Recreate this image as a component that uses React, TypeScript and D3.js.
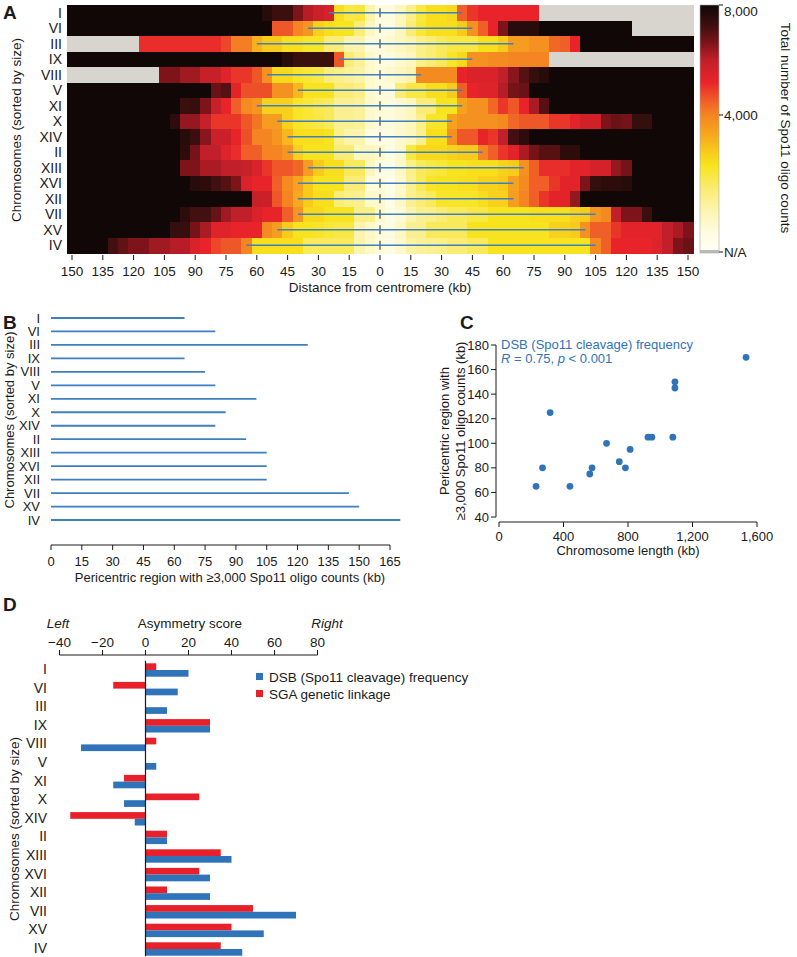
import React from 'react';
import * as d3 from 'd3';

const FONT = '"Liberation Sans", Arial, Helvetica, sans-serif';
const N = null;

const chromosomes = ['I', 'VI', 'III', 'IX', 'VIII', 'V', 'XI', 'X', 'XIV', 'II', 'XIII', 'XVI', 'XII', 'VII', 'XV', 'IV'];

// bin centres (kb from centromere), 5 kb bins
const binCentersKb = [
  -150, -145, -140, -135, -130, -125, -120, -115, -110, -105,
  -100, -95, -90, -85, -80, -75, -70, -65, -60, -55,
  -50, -45, -40, -35, -30, -25, -20, -15, -10, -5,
  0, 5, 10, 15, 20, 25, 30, 35, 40, 45,
  50, 55, 60, 65, 70, 75, 80, 85, 90, 95,
  100, 105, 110, 115, 120, 125, 130, 135, 140, 145,
  150,
];

// Spo11 oligo counts per bin, in thousands (8 = saturated, null = N/A)
const heat_I = [8,8,8,8,8,8,8,8,8,8, 8,8,8,8,8,8,8,8,8,7.6, 7.3,7.3,6.6,6.1,5.8,5.6,2.6,2.2,2.3,1.2, 0.5,0.6,1.0,1.6,2.2,2.6,2.6,2.7,4.5,5.0, 5.2,5.2,5.2,5.2,5.2,5.2,N,N,N,N, N,N,N,N,N,N,N,N,N,N, N];
const heat_VI = [8,8,8,8,8,8,8,8,8,8, 8,8,8,8,8,8,8,8,8,8, 4.6,4.6,4.0,3.7,2.8,2.6,2.5,2.5,1.8,1.0, 0.5,0.5,1.0,1.8,2.3,2.6,2.6,2.6,2.9,3.8, 4.5,5.2,6.6,7.6,7.6,7.6,8,8,8,8, 8,8,8,8,8,N,N,N,N,N, N];
const heat_III = [N,N,N,N,N,N,N,5.1,5.1,5.1, 5.1,5.1,5.1,5.1,5.1,4.8,4.1,4.1,3.3,2.9, 2.9,2.6,2.6,2.4,2.4,1.8,1.8,1.2,1.2,0.6, 0.6,0.8,1.0,1.2,1.6,1.8,2.0,2.2,2.2,2.2, 2.6,2.6,2.9,3.6,3.6,3.8,3.8,4.4,4.5,5.2, 8,8,8,8,8,8,8,8,8,8, 8];
const heat_IX = [8,8,8,8,8,8,8,8,8,8, 8,8,8,8,8,8,8,8,8,8, 8,7.6,7.3,7.3,7.3,7.3,4.6,1.8,1.4,0.8, 0.5,0.5,0.8,1.0,1.6,1.8,2.0,2.4,2.7,3.8, 3.8,3.9,3.9,4.0,4.0,4.0,4.0,N,N,N, N,N,N,N,N,N,N,N,N,N, N];
const heat_VIII = [N,N,N,N,N,N,N,N,N,6.6, 6.6,6.3,6.3,5.9,5.9,5.3,5.0,5.0,4.6,3.8, 2.7,2.7,2.4,2.3,2.2,1.7,1.6,1.4,1.3,0.8, 0.6,0.8,1.0,1.2,3.9,3.9,3.9,3.9,5.2,5.5, 5.5,5.5,6.0,6.5,7.0,7.4,7.6,8,8,8, 8,8,8,8,8,8,8,8,8,8, 8];
const heat_V = [8,8,8,8,8,8,8,8,8,8, 8,8,8,8,6.8,7.0,5.3,4.7,4.7,4.7, 3.8,3.8,3.2,2.5,2.5,2.5,1.8,1.8,1.6,0.8, 0.6,0.6,1.8,2.2,2.2,2.6,2.6,2.9,4.5,5.2, 5.4,5.4,6.1,6.7,6.8,8,8,8,8,8, 8,8,8,8,8,8,8,8,8,8, 8];
const heat_XI = [8,8,8,8,8,8,8,8,8,8, 8,7.3,7.4,6.6,5.9,5.2,4.5,3.9,3.7,2.8, 2.8,2.8,2.4,2.3,2.1,2.0,1.5,1.5,1.4,0.8, 0.7,0.6,0.8,1.0,1.8,1.8,2.5,2.5,3.5,3.8, 3.8,4.4,5.0,4.6,5.2,6.2,7.0,8,8,8, 8,8,8,8,8,8,8,8,8,8, 8];
const heat_X = [8,8,8,8,8,8,8,8,8,8, 7.5,6.4,6.4,5.9,5.0,5.0,5.0,4.6,4.2,3.6, 3.6,2.8,2.4,2.3,2.2,2.0,1.5,1.5,1.4,0.8, 0.6,0.6,0.8,1.0,1.6,2.4,2.4,3.5,3.8,3.8, 3.8,3.8,3.9,4.4,4.6,4.6,4.6,5.0,5.0,5.3, 5.7,5.7,6.6,6.8,6.7,7.4,7.4,8,8,8, 8];
const heat_XIV = [8,8,8,8,8,8,8,8,8,8, 8,7.6,7.3,6.5,5.8,5.8,5.2,4.7,4.0,4.0, 3.7,3.2,2.6,2.6,2.6,2.5,1.6,1.2,1.2,0.5, 0.4,0.5,0.8,1.0,1.5,2.6,2.6,3.8,4.6,4.6, 5.2,5.0,6.0,7.2,7.5,8,8,8,8,8, 8,8,8,8,8,8,8,8,8,8, 8];
const heat_II = [8,8,8,8,8,8,8,8,8,8, 8,7.5,6.7,6.0,6.0,5.4,5.1,4.5,4.5,4.0, 4.0,3.7,2.8,2.5,2.5,2.5,1.8,1.8,1.0,1.0, 0.8,0.4,0.8,2.2,2.7,2.7,2.7,2.8,2.9,2.9, 4.0,4.5,5.0,5.3,6.2,6.7,7.0,7.0,7.5,7.5, 8,8,8,8,8,8,8,8,8,8, 8];
const heat_XIII = [8,8,8,8,8,8,8,8,8,8, 8,6.6,6.6,6.2,6.2,6.0,6.0,5.9,5.5,5.0, 4.6,4.6,4.4,3.6,2.9,2.6,2.6,2.0,2.0,1.0, 0.4,0.4,0.9,1.6,2.0,2.2,2.3,2.5,2.5,2.6, 2.6,2.6,2.8,2.9,3.8,4.5,5.1,5.1,5.1,5.3, 5.3,5.6,5.6,6.4,6.7,8,8,8,8,8, 8];
const heat_XVI = [8,8,8,8,8,8,8,8,8,8, 8,8,7.6,7.5,7.2,7.0,6.6,5.5,5.2,5.2, 4.5,3.9,3.5,2.9,2.5,2.5,2.5,1.8,1.8,0.6, 0.6,0.3,0.8,1.5,2.0,2.4,2.5,2.5,2.6,2.6, 2.8,2.8,2.9,3.5,3.9,4.5,4.5,5.0,5.3,5.3, 6.6,7.4,7.5,7.5,7.6,8,8,8,8,8, 8];
const heat_XII = [8,8,8,8,8,8,8,8,8,8, 8,8,8,8,8,8,8,8,5.9,5.8, 4.6,4.0,3.4,2.9,2.6,2.6,1.8,1.6,1.5,0.8, 0.8,0.4,0.9,1.5,1.8,2.0,2.4,2.4,2.4,2.4, 2.6,2.8,2.8,3.6,4.0,4.5,5.0,5.3,5.3,6.4, 8,8,8,8,8,8,8,8,8,8, 8];
const heat_VII = [8,8,8,8,8,8,8,8,8,8, 8,7.5,7.2,7.2,6.8,6.3,6.0,6.0,5.5,5.2, 5.2,4.5,3.7,2.7,2.7,2.5,2.5,2.5,1.6,1.6, 0.8,0.4,0.7,1.2,1.5,1.6,1.8,2.0,2.0,2.2, 2.2,2.5,2.5,2.5,2.5,2.6,2.6,2.6,2.6,2.8, 2.9,3.7,3.9,6.0,6.6,6.6,7.3,8,8,8, 8];
const heat_XV = [8,8,8,8,8,8,8,8,8,8, 7.4,7.4,6.7,6.2,5.4,5.4,5.2,5.2,5.2,3.9, 3.6,2.9,2.5,2.5,2.4,2.3,2.2,2.2,1.2,0.9, 0.6,0.5,0.9,1.5,1.5,2.0,2.0,2.0,2.0,2.5, 2.5,2.5,2.5,2.5,2.5,2.5,2.5,2.8,2.8,2.9, 3.8,4.5,4.5,5.0,5.3,5.3,5.3,5.3,6.0,6.2, 6.6];
const heat_IV = [8,8,8,8,7.2,6.9,6.6,6.6,6.3,6.3, 6.1,6.1,5.5,5.2,4.8,4.6,4.6,4.0,2.6,2.6, 2.6,2.6,2.6,2.0,2.0,2.0,2.0,2.0,1.2,0.9, 0.6,0.5,0.8,1.3,1.4,1.5,1.6,1.8,1.8,2.0, 2.0,2.5,2.5,2.5,2.5,2.5,2.5,2.5,2.5,2.5, 2.5,3.9,4.5,5.2,5.2,5.2,5.2,5.4,6.0,6.6, 6.8];

const heatRows = [heat_I, heat_VI, heat_III, heat_IX, heat_VIII, heat_V, heat_XI, heat_X, heat_XIV, heat_II, heat_XIII, heat_XVI, heat_XII, heat_VII, heat_XV, heat_IV];

// pericentric region (<3,000 oligo counts) edges, kb from centromere
const pericentricLeftKb = [-25, -35, -60, -20, -55, -40, -60, -50, -45, -45, -35, -40, -40, -40, -50, -65];
const pericentricRightKb = [40, 45, 65, 45, 20, 40, 40, 35, 35, 50, 70, 65, 65, 105, 100, 105];
// total pericentric region width (kb)
const pericentricKb = [65, 80, 125, 65, 75, 80, 100, 85, 80, 95, 105, 105, 105, 145, 150, 170];
const chromosomeLengthKb = [230, 270, 317, 440, 563, 577, 667, 746, 784, 813, 924, 948, 1078, 1091, 1091, 1532];

// asymmetry scores (panel D)
const dsbAsymmetry = [20, 15, 10, 30, -30, 5, -15, -10, -5, 10, 40, 30, 30, 70, 55, 45];
const sgaAsymmetry = [5, -15, 0, 30, 5, 0, -10, 25, -35, 10, 35, 25, 10, 50, 40, 35];

// tick values
const ticksA = [-150, -135, -120, -105, -90, -75, -60, -45, -30, -15, 0, 15, 30, 45, 60, 75, 90, 105, 120, 135, 150];
const ticksB = [0, 15, 30, 45, 60, 75, 90, 105, 120, 135, 150, 165];
const ticksCx = [0, 400, 800, 1200, 1600];
const ticksCy = [40, 60, 80, 100, 120, 140, 160, 180];
const ticksD = [-40, -20, 0, 20, 40, 60, 80];
const colorbarTicks = [8, 4];
const colorbarTickLabels = ['8,000', '4,000'];

// colour scale (thousands of counts)
const colorDomain = [0, 0.6, 1.2, 1.8, 2.5, 2.9, 3.5, 4.0, 4.6, 5.2, 6.0, 6.6, 7.2, 7.7, 8];
const colorRange = ['#fffff4', '#fefbdc', '#fcf4ad', '#faec74', '#f8e41e', '#f8cb1b', '#f6a21f', '#f48522', '#ee5828', '#e8242a', '#c11f29', '#7e141a', '#421010', '#220a0a', '#110707'];

const BLUE = '#2f74b8';
const LINE_BLUE = '#3d7fbf';
const RED = '#e8202a';
const TXT = '#1a1a1a';

const fmt = (v: number) => (v < 0 ? '\u2212' + Math.abs(v) : String(v));

export default function App() {
  const color = d3
    .scaleLinear<string>()
    .domain(colorDomain)
    .range(colorRange)
    .interpolate(d3.interpolateRgb)
    .clamp(true);

  // ---------- Panel A ----------
  const xA = d3.scaleLinear().domain([-150, 150]).range([72, 688]);
  const yA = d3.scaleBand<string>().domain(chromosomes).range([5, 253]);
  const bwA = yA.bandwidth();
  const axisYA = yA.range()[1];

  const cbX = 700, cbW = 19;
  const cbScale = d3.scaleLinear().domain([0, 4, 8]).range([250, 115, 5]);

  // ---------- Panel B ----------
  const xB = d3.scaleLinear().domain([0, 165]).range([51, 390]);
  const yB = d3.scalePoint<string>().domain(chromosomes).range([318, 520]);
  const axisYB = 545;

  // ---------- Panel C ----------
  const xC = d3.scaleLinear().domain([0, 1600]).range([499, 757]);
  const yC = d3.scaleLinear().domain([40, 180]).range([517, 345]);
  const axisXC = 496;
  const axisYC = 522;

  // ---------- Panel D ----------
  const xD = d3.scaleLinear().domain([-40, 80]).range([59.5, 317.5]);
  const yD = d3.scaleBand<string>().domain(chromosomes).range([660.7, 958.3]);
  const bwD = yD.bandwidth();
  const barH = 6.7;
  const axisYD = 655;

  return (
    <svg
      width={797}
      height={957}
      style={{ position: 'absolute', left: 0, top: 0, display: 'block', background: '#fff' }}
      fontFamily={FONT}
      fill={TXT}
    >
      <defs>
        <linearGradient id="cbgrad" gradientUnits="userSpaceOnUse" x1="0" y1={cbScale(0)} x2="0" y2={cbScale(8)}>
          {colorDomain.map((v, i) => (
            <stop
              key={i}
              offset={`${((cbScale(0) - cbScale(v)) / (cbScale(0) - cbScale(8))) * 100}%`}
              stopColor={colorRange[i]}
            />
          ))}
        </linearGradient>
      </defs>

      {/* ================= A ================= */}
      <text x={3} y={19} fontSize={19} fontWeight="bold">A</text>
      <g shapeRendering="crispEdges">
        {heatRows.map((row, ri) =>
          row.map((v, bi) => {
            const c = binCentersKb[bi];
            const x0 = xA(c - 2.5);
            const x1 = xA(c + 2.5);
            return (
              <rect
                key={`${ri}-${bi}`}
                x={x0}
                y={yA(chromosomes[ri])!}
                width={x1 - x0 + 0.6}
                height={bwA + 0.6}
                fill={v === null ? '#d8d5cf' : color(v)}
              />
            );
          })
        )}
      </g>
      {/* centromere dashes */}
      {chromosomes.map((c) => {
        const yc = yA(c)! + bwA / 2;
        return (
          <line key={'d' + c} x1={xA(0)} x2={xA(0)} y1={yc - 4.5} y2={yc + 4.5} stroke="#555" strokeWidth={1.3} />
        );
      })}
      {/* pericentric lines */}
      {chromosomes.map((c, i) => {
        const yc = yA(c)! + bwA / 2;
        return (
          <line key={'l' + c} x1={xA(pericentricLeftKb[i])} x2={xA(pericentricRightKb[i])} y1={yc} y2={yc} stroke={LINE_BLUE} strokeWidth={1.5} />
        );
      })}
      {/* row labels */}
      {chromosomes.map((c) => (
        <text key={'ra' + c} x={62} y={yA(c)! + bwA / 2} fontSize={14} textAnchor="end" dominantBaseline="central">{c}</text>
      ))}
      <text transform={`translate(21,130) rotate(-90)`} fontSize={13.5} textAnchor="middle">Chromosomes (sorted by size)</text>
      {/* x axis A */}
      {ticksA.map((t) => (
        <g key={'ta' + t}>
          <line x1={xA(t)} x2={xA(t)} y1={axisYA + 2} y2={axisYA + 7} stroke={TXT} strokeWidth={1} />
          <text x={xA(t)} y={axisYA + 23} fontSize={13.5} textAnchor="middle">{Math.abs(t)}</text>
        </g>
      ))}
      <text x={xA(0)} y={axisYA + 39} fontSize={13.5} textAnchor="middle">Distance from centromere (kb)</text>

      {/* colour bar */}
      <rect x={cbX} y={cbScale(8)} width={cbW} height={cbScale(0) - cbScale(8)} fill="url(#cbgrad)" />
      <rect x={cbX} y={cbScale(0)} width={cbW} height={3} fill="#bdbab4" />
      <rect x={cbX} y={cbScale(8)} width={cbW} height={cbScale(0) + 3 - cbScale(8)} fill="none" stroke="#aaa" strokeWidth={0.6} />
      {colorbarTicks.map((v, i) => (
        <g key={'cb' + v}>
          <line x1={cbX + cbW} x2={cbX + cbW + 4} y1={cbScale(v)} y2={cbScale(v)} stroke={TXT} />
          <text x={cbX + cbW + 5} y={Math.max(cbScale(v), 11)} fontSize={13.5} dominantBaseline="central">{colorbarTickLabels[i]}</text>
        </g>
      ))}
      <line x1={cbX + cbW} x2={cbX + cbW + 4} y1={cbScale(0) + 2} y2={cbScale(0) + 2} stroke={TXT} />
      <text x={cbX + cbW + 5} y={cbScale(0) + 2} fontSize={13.5} dominantBaseline="central">N/A</text>
      <text transform={`translate(781,128) rotate(90)`} fontSize={13.5} textAnchor="middle">Total number of Spo11 oligo counts</text>

      {/* ================= B ================= */}
      <text x={3} y={329} fontSize={19} fontWeight="bold">B</text>
      {chromosomes.map((c, i) => (
        <g key={'b' + c}>
          <line x1={xB(0)} x2={xB(pericentricRightKb[i] - pericentricLeftKb[i])} y1={yB(c)!} y2={yB(c)!} stroke={LINE_BLUE} strokeWidth={1.8} />
          <text x={40} y={yB(c)!} fontSize={13} textAnchor="end" dominantBaseline="central">{c}</text>
        </g>
      ))}
      <text transform={`translate(14,420) rotate(-90)`} fontSize={13} textAnchor="middle">Chromosomes (sorted by size)</text>
      <line x1={xB(0)} x2={xB(165)} y1={axisYB} y2={axisYB} stroke={TXT} />
      {ticksB.map((t) => (
        <g key={'tb' + t}>
          <line x1={xB(t)} x2={xB(t)} y1={axisYB} y2={axisYB + 5} stroke={TXT} />
          <text x={xB(t)} y={axisYB + 21} fontSize={13} textAnchor="middle">{t}</text>
        </g>
      ))}
      <text x={230} y={axisYB + 37} fontSize={13} textAnchor="middle">Pericentric region with ≥3,000 Spo11 oligo counts (kb)</text>

      {/* ================= C ================= */}
      <text x={460} y={329} fontSize={19} fontWeight="bold">C</text>
      <line x1={axisXC} x2={axisXC} y1={yC(40)} y2={yC(180)} stroke={TXT} />
      {ticksCy.map((t) => (
        <g key={'tcy' + t}>
          <line x1={axisXC - 5} x2={axisXC} y1={yC(t)} y2={yC(t)} stroke={TXT} />
          <text x={axisXC - 7} y={yC(t)} fontSize={13} textAnchor="end" dominantBaseline="central">{t}</text>
        </g>
      ))}
      <line x1={xC(0)} x2={xC(1600)} y1={axisYC} y2={axisYC} stroke={TXT} />
      {ticksCx.map((t) => (
        <g key={'tcx' + t}>
          <line x1={xC(t)} x2={xC(t)} y1={axisYC} y2={axisYC + 5} stroke={TXT} />
          <text x={xC(t)} y={axisYC + 19} fontSize={13} textAnchor="middle">{d3.format(',')(t)}</text>
        </g>
      ))}
      <text x={(xC(0) + xC(1600)) / 2} y={axisYC + 33} fontSize={13} textAnchor="middle">Chromosome length (kb)</text>
      <text transform={`translate(449,431) rotate(-90)`} fontSize={13} textAnchor="middle">Pericentric region with</text>
      <text transform={`translate(465,431) rotate(-90)`} fontSize={13} textAnchor="middle">≥3,000 Spo11 oligo counts (kb)</text>
      <text x={501} y={349} fontSize={13} fill={BLUE}>DSB (Spo11 cleavage) frequency</text>
      <text x={501} y={363} fontSize={13} fill={BLUE}>
        <tspan fontStyle="italic">R</tspan>
        <tspan> = 0.75, </tspan>
        <tspan fontStyle="italic">p</tspan>
        <tspan> &lt; 0.001</tspan>
      </text>
      {chromosomeLengthKb.map((len, i) => (
        <circle key={'pc' + i} cx={xC(len)} cy={yC(pericentricKb[i])} r={3.4} fill={BLUE} />
      ))}

      {/* ================= D ================= */}
      <text x={3} y={611} fontSize={19} fontWeight="bold">D</text>
      <text x={58} y={628} fontSize={13.5} fontStyle="italic" textAnchor="middle">Left</text>
      <text x={190} y={628} fontSize={13.5} textAnchor="middle">Asymmetry score</text>
      <text x={327} y={628} fontSize={13.5} fontStyle="italic" textAnchor="middle">Right</text>
      <line x1={xD(-40)} x2={xD(80)} y1={axisYD} y2={axisYD} stroke={TXT} />
      {ticksD.map((t) => (
        <g key={'td' + t}>
          <line x1={xD(t)} x2={xD(t)} y1={axisYD - 5} y2={axisYD} stroke={TXT} />
          <text x={xD(t)} y={axisYD - 8} fontSize={13.5} textAnchor="middle">{fmt(t)}</text>
        </g>
      ))}
      {chromosomes.map((c, i) => {
        const mid = yD(c)! + bwD / 2;
        const s = sgaAsymmetry[i];
        const d = dsbAsymmetry[i];
        return (
          <g key={'d' + c}>
            {s !== 0 && (
              <rect x={Math.min(xD(0), xD(s))} y={mid - barH} width={Math.abs(xD(s) - xD(0))} height={barH} fill={RED} />
            )}
            {d !== 0 && (
              <rect x={Math.min(xD(0), xD(d))} y={mid} width={Math.abs(xD(d) - xD(0))} height={barH} fill={BLUE} />
            )}
            <text x={47} y={mid - 1} fontSize={14} textAnchor="end" dominantBaseline="central">{c}</text>
          </g>
        );
      })}
      <line x1={xD(0)} x2={xD(0)} y1={yD.range()[0]} y2={yD.range()[1] - 2} stroke={TXT} strokeWidth={1.2} />
      <text transform={`translate(19,829) rotate(-90)`} fontSize={13.5} textAnchor="middle">Chromosomes (sorted by size)</text>
      {/* legend */}
      <rect x={256} y={673} width={7} height={7} fill={BLUE} />
      <text x={269} y={677} fontSize={13.5} dominantBaseline="central">DSB (Spo11 cleavage) frequency</text>
      <rect x={256} y={690} width={7} height={7} fill={RED} />
      <text x={269} y={694} fontSize={13.5} dominantBaseline="central">SGA genetic linkage</text>
    </svg>
  );
}
